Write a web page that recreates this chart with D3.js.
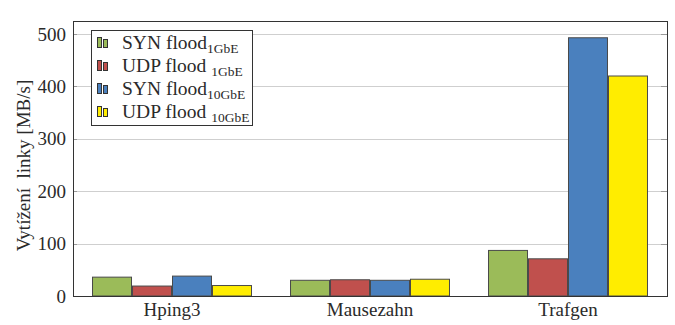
<!DOCTYPE html>
<html>
<head>
<meta charset="utf-8">
<script src="https://cdn.jsdelivr.net/npm/d3@7"></script>
<style>
  html, body { margin: 0; padding: 0; background: #fff; }
  svg text { font-family: "Liberation Serif", "Times New Roman", serif; fill: #2a2a2a; }
</style>
</head>
<body>
<svg id="chart" width="675" height="325"></svg>
<script>
// Generators compared on each link type
const categories = ["Hping3", "Mausezahn", "Trafgen"];

// Link utilisation in MB/s, one value per generator
const synFlood1G  = [36, 30, 87];
const udpFlood1G  = [19, 31, 71];
const synFlood10G = [38, 30, 493];
const udpFlood10G = [20, 32, 420];
const seriesValues = [synFlood1G, udpFlood1G, synFlood10G, udpFlood10G];

const seriesNames = [
  { main: "SYN flood", sub: "1GbE" },
  { main: "UDP flood ", sub: "1GbE" },
  { main: "SYN flood", sub: "10GbE" },
  { main: "UDP flood ", sub: "10GbE" }
];
const seriesColors = ["#9BBB59", "#C0504D", "#4A80BE", "#FFED00"];

const yTicks = [0, 100, 200, 300, 400, 500];
const yLabel = "Vytížení  linky [MB/s]";

const svg = d3.select("#chart");
const plot = { left: 73, right: 667, top: 21, bottom: 296 };

const x0 = d3.scaleBand()
  .domain(categories)
  .range([plot.left, plot.right])
  .paddingInner(0.192)
  .paddingOuter(0.096);

const x1 = d3.scaleBand()
  .domain(d3.range(seriesValues.length))
  .range([0, x0.bandwidth()]);

const y = d3.scaleLinear()
  .domain([0, 525])
  .range([plot.bottom, plot.top]);

const py = d => Math.round(y(d)) + 0.5;

// grid lines
svg.append("g")
  .selectAll("line")
  .data(yTicks.filter(t => t > 0))
  .join("line")
  .attr("x1", plot.left).attr("x2", plot.right)
  .attr("y1", py).attr("y2", py)
  .attr("stroke", "#cfcfcf").attr("stroke-width", 1);

// small inner tick marks on both vertical sides
const tickG = svg.append("g");
tickG.selectAll("line.l").data(yTicks).join("line").attr("class", "l")
  .attr("x1", plot.left).attr("x2", plot.left + 4)
  .attr("y1", py).attr("y2", py)
  .attr("stroke", "#999");
tickG.selectAll("line.r").data(yTicks).join("line").attr("class", "r")
  .attr("x1", plot.right - 6).attr("x2", plot.right)
  .attr("y1", py).attr("y2", py)
  .attr("stroke", "#999");

// bars
const groups = svg.append("g")
  .selectAll("g")
  .data(categories)
  .join("g")
  .attr("transform", d => `translate(${x0(d)},0)`);

groups.selectAll("rect")
  .data((d, ci) => seriesValues.map((vals, si) => ({ si, v: vals[ci] })))
  .join("rect")
  .attr("x", d => x1(d.si) + 0.5)
  .attr("width", x1.bandwidth() - 1)
  .attr("y", d => y(d.v))
  .attr("height", d => y(0) - y(d.v))
  .attr("fill", d => seriesColors[d.si])
  .attr("stroke", "#4a4a4a")
  .attr("stroke-width", 1);

// frame
svg.append("rect")
  .attr("x", plot.left + 0.5).attr("y", plot.top + 0.5)
  .attr("width", plot.right - plot.left).attr("height", plot.bottom - plot.top)
  .attr("fill", "none").attr("stroke", "#333").attr("stroke-width", 1);

// y axis labels
const yAxis = d3.axisLeft(y).tickValues(yTicks).tickSize(0).tickPadding(7);
const yg = svg.append("g").attr("transform", `translate(${plot.left},0)`).call(yAxis);
yg.select(".domain").remove();
yg.attr("font-family", null);
yg.selectAll("text").attr("font-size", 19);

// x axis labels
const xAxis = d3.axisBottom(x0).tickSize(0).tickPadding(7);
const xg = svg.append("g").attr("transform", `translate(0,${plot.bottom})`).call(xAxis);
xg.select(".domain").remove();
xg.attr("font-family", null);
xg.selectAll("text").attr("font-size", 19);

// y axis title
svg.append("text")
  .attr("transform", `translate(30,${(plot.top + plot.bottom) / 2 + 7}) rotate(-90)`)
  .attr("text-anchor", "middle")
  .attr("font-size", 19)
  .style("white-space", "pre")
  .text(yLabel);

// legend
const legend = svg.append("g");
legend.append("rect")
  .attr("x", 91.5).attr("y", 30.5).attr("width", 161).attr("height", 95)
  .attr("fill", "#fff").attr("stroke", "#333");

const rowY = [43, 66, 89, 112];
const items = legend.selectAll("g.item")
  .data(seriesNames)
  .join("g").attr("class", "item")
  .attr("transform", (d, i) => `translate(0,${rowY[i]})`);

items.append("rect")
  .attr("x", 97.5).attr("y", -5.5).attr("width", 4).attr("height", 10)
  .attr("fill", (d, i) => seriesColors[i]).attr("stroke", "#333");
items.append("rect")
  .attr("x", 103.5).attr("y", -3.5).attr("width", 4).attr("height", 8)
  .attr("fill", (d, i) => seriesColors[i]).attr("stroke", "#333");

const lt = items.append("text")
  .attr("x", 122).attr("y", 6)
  .attr("font-size", 19.5)
  .style("white-space", "pre");
lt.append("tspan").text(d => d.main);
lt.append("tspan").attr("font-size", 13.5).attr("dy", 4).text(d => d.sub);
</script>
</body>
</html>
